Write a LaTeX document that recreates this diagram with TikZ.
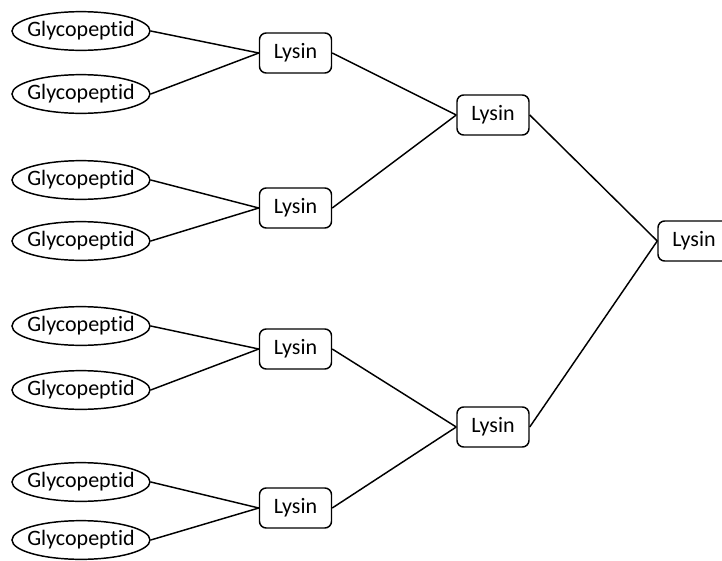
\documentclass[tikz,border=0pt]{standalone}
\usepackage{fontspec}
\setmainfont{Carlito}[Ligatures={NoCommon}]
\usetikzlibrary{shapes.geometric, positioning}

\begin{document}
\begin{tikzpicture}[x=0.75pt, y=-0.75pt, font=\fontsize{16.5}{20}\selectfont,
		gly/.style={draw, ellipse, line width=1.1pt, minimum width=103.5pt, minimum height=29pt, inner xsep=-6pt, inner ysep=0pt, fill=white},
		lys/.style={draw, rectangle, rounded corners=5pt, line width=1.1pt, minimum width=54pt, minimum height=30pt, inner sep=0pt, fill=white},
		edge/.style={line width=1.1pt}]
				\useasboundingbox (0, 0) rectangle (722, 561);
				
				\node[gly] (g1) at (81, 31) {Glycopeptid};
				\node[gly] (g2) at (81, 94) {Glycopeptid};
				\node[gly] (g3) at (81, 180) {Glycopeptid};
				\node[gly] (g4) at (81, 241) {Glycopeptid};
				\node[gly] (g5) at (81, 326) {Glycopeptid};
				\node[gly] (g6) at (81, 390) {Glycopeptid};
				\node[gly] (g7) at (81, 482) {Glycopeptid};
				\node[gly] (g8) at (81, 540) {Glycopeptid};
				
				\node[lys] (l1) at (295.5, 53) {Lysin};
				\node[lys] (l2) at (295.5, 208) {Lysin};
				\node[lys] (l3) at (295.5, 349) {Lysin};
				\node[lys] (l4) at (295.5, 508) {Lysin};
				
				\node[lys] (m1) at (493, 115) {Lysin};
				\node[lys] (m2) at (493, 427) {Lysin};
				
				\node[lys] (top) at (694, 241) {Lysin};
				
				\draw[edge] (g1.east) -- (l1.west);
				\draw[edge] (g2.east) -- (l1.west);
				\draw[edge] (g3.east) -- (l2.west);
				\draw[edge] (g4.east) -- (l2.west);
				\draw[edge] (g5.east) -- (l3.west);
				\draw[edge] (g6.east) -- (l3.west);
				\draw[edge] (g7.east) -- (l4.west);
				\draw[edge] (g8.east) -- (l4.west);
				
				\draw[edge] (l1.east) -- (m1.west);
				\draw[edge] (l2.east) -- (m1.west);
				\draw[edge] (l3.east) -- (m2.west);
				\draw[edge] (l4.east) -- (m2.west);
				
				\draw[edge] (m1.east) -- (top.west);
				\draw[edge] (m2.east) -- (top.west);
			\end{tikzpicture}
\end{document}
